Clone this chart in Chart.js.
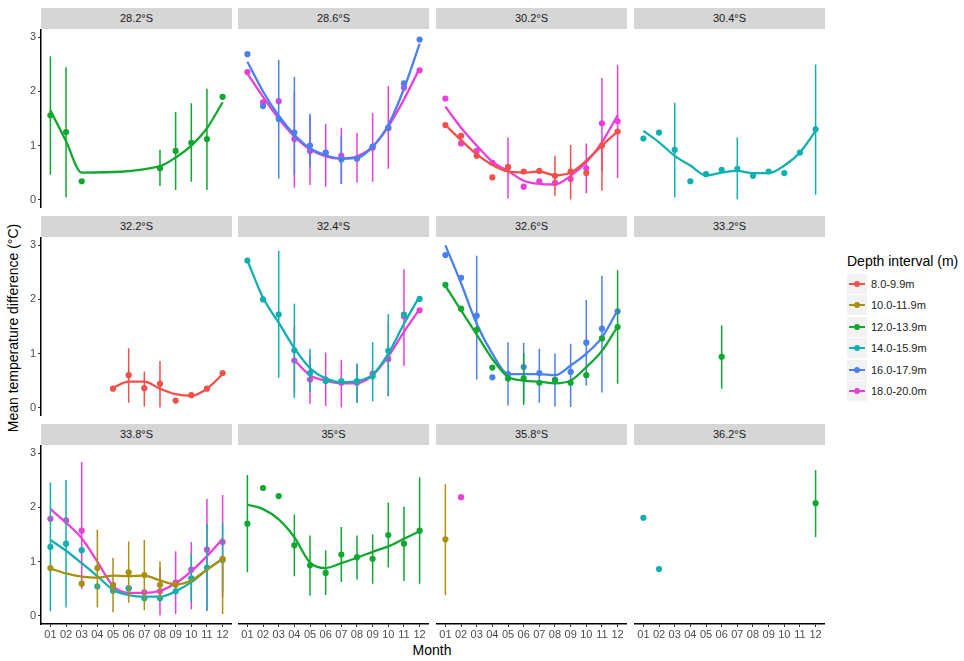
<!DOCTYPE html>
<html>
<head>
<meta charset="utf-8">
<script src="https://cdn.jsdelivr.net/npm/chart.js@4/dist/chart.umd.min.js"></script>
<style>
  body { margin: 0; background: #fff; width: 964px; height: 661px; position: relative; overflow: hidden;
         font-family: "Liberation Sans", Arial, sans-serif; }
  .strip { position: absolute; height: 21px; background: #d6d6d6; color: #1a1a1a; font-size: 11px;
           line-height: 21px; text-align: center; }
  .panel { position: absolute; }
  .ytitle { position: absolute; left: 13px; top: 328px; transform: translate(-50%, -50%) rotate(-90deg);
            font-size: 14px; color: #000; white-space: nowrap; }
  .xtitle { position: absolute; left: 432px; top: 642px; transform: translateX(-50%); font-size: 14px; color: #000; }
  .legend { position: absolute; left: 847px; top: 253px; }
  .legend .title { font-size: 14px; color: #000; margin-bottom: 4px; }
  .legend .item { height: 21.5px; display: flex; align-items: center; font-size: 11px; color: #1a1a1a; }
  .legend .key { width: 20px; height: 20px; background: #f2f2f2; position: relative; margin-right: 4px; }
  .legend .key .ln { position: absolute; left: 2px; right: 2px; top: 9px; height: 2px; }
  .legend .key .dt { position: absolute; left: 7px; top: 7px; width: 6px; height: 6px; border-radius: 3px; }
</style>
</head>
<body>
<div class="ytitle">Mean temperature difference (°C)</div>
<div class="xtitle">Month</div>
<div class="legend" id="legend"><div class="title">Depth interval (m)</div></div>
<script>
const _ = null;
const months = ['01', '02', '03', '04', '05', '06', '07', '08', '09', '10', '11', '12'];
const monthNums = [1, 2, 3, 4, 5, 6, 7, 8, 9, 10, 11, 12];
const yTicks = [0, 1, 2, 3];
const latitudes = ['28.2°S', '28.6°S', '30.2°S', '30.4°S', '32.2°S', '32.4°S', '32.6°S', '33.2°S',
                   '33.8°S', '35°S', '35.8°S', '36.2°S'];
const depthIntervals = ['8.0-9.9m', '10.0-11.9m', '12.0-13.9m', '14.0-15.9m', '16.0-17.9m', '18.0-20.0m'];
const depthColors = ['#F0504A', '#A89010', '#10A830', '#10B0B0', '#4A80F0', '#E840D8'];

// 28.2°S
const s282_12_mean = [1.56, 1.25, 0.34, _, _, _, _, 0.58, 0.90, 1.05, 1.12, 1.90];
const s282_12_lo   = [0.46, 0.04, _, _, _, _, _, 0.25, 0.18, 0.33, 0.18, _];
const s282_12_hi   = [2.65, 2.45, _, _, _, _, _, 0.92, 1.62, 1.78, 2.05, _];
const s282_12_fit  = [1.65, 1.08, 0.50, _, _, _, _, 0.62, 0.78, 1.00, 1.32, 1.80];

// 28.6°S
const s286_16_mean = [2.69, 1.73, 1.49, 1.24, 1.00, 0.87, 0.74, 0.76, 0.98, 1.33, 2.15, 2.96];
const s286_16_lo   = [_, _, 0.39, 0.45, 0.60, _, 0.30, _, _, _, _, _];
const s286_16_hi   = [_, _, 2.58, 2.27, 1.59, _, 1.19, _, _, _, _, _];
const s286_16_fit  = [2.55, 2.00, 1.55, 1.20, 0.95, 0.82, 0.76, 0.77, 0.98, 1.38, 2.05, 2.88];
const s286_18_mean = [2.36, 1.80, 1.82, 1.12, 0.90, 0.86, 0.81, 0.76, 0.96, 1.32, 2.07, 2.39];
const s286_18_lo   = [_, _, _, 0.22, 0.27, 0.24, 0.29, 0.31, 0.33, 0.57, _, _];
const s286_18_hi   = [_, _, _, 1.98, 1.54, 1.40, 1.33, 1.23, 1.60, 2.10, _, _];
const s286_18_fit  = [2.33, 1.90, 1.50, 1.17, 0.93, 0.80, 0.76, 0.80, 0.98, 1.35, 1.85, 2.43];

// 30.2°S
const s302_8_mean  = [1.38, 1.18, 0.81, 0.41, 0.60, 0.52, 0.53, 0.44, 0.52, 0.49, 1.00, 1.26];
const s302_8_lo    = [_, _, _, _, _, _, _, 0.07, 0.00, _, 0.17, _];
const s302_8_hi    = [_, _, _, _, _, _, _, 0.81, 1.01, _, 1.10, _];
const s302_8_fit   = [1.38, 1.10, 0.84, 0.64, 0.52, 0.50, 0.52, 0.45, 0.50, 0.72, 1.00, 1.26];
const s302_18_mean = [1.87, 1.04, 0.90, 0.68, 0.60, 0.24, 0.34, 0.31, 0.38, 0.58, 1.41, 1.45];
const s302_18_lo   = [_, _, _, _, 0.02, _, _, _, _, 0.12, 0.53, 0.40];
const s302_18_hi   = [_, _, _, _, 1.15, _, _, _, _, 1.04, 2.25, 2.49];
const s302_18_fit  = [1.72, 1.33, 1.00, 0.70, 0.53, 0.35, 0.29, 0.28, 0.44, 0.69, 1.06, 1.56];

// 30.4°S
const s304_14_mean = [1.13, 1.24, 0.92, 0.34, 0.47, 0.55, 0.57, 0.44, 0.52, 0.49, 0.87, 1.30];
const s304_14_lo   = [_, _, 0.04, _, _, _, 0.00, _, _, _, _, 0.09];
const s304_14_hi   = [_, _, 1.79, _, _, _, 1.15, _, _, _, _, 2.50];
const s304_14_fit  = [1.27, 1.06, 0.81, 0.63, 0.45, 0.50, 0.53, 0.49, 0.49, 0.63, 0.87, 1.27];

// 32.2°S
const s322_8_mean  = [_, _, _, _, 0.35, 0.60, 0.36, 0.44, 0.13, 0.23, 0.35, 0.64];
const s322_8_lo    = [_, _, _, _, _, 0.09, 0.02, 0.00, _, _, _, _];
const s322_8_hi    = [_, _, _, _, _, 1.10, 0.67, 0.86, _, _, _, _];
const s322_8_fit   = [_, _, _, _, 0.37, 0.48, 0.48, 0.35, 0.25, 0.22, 0.35, 0.62];

// 32.4°S
const s324_14_mean = [2.72, 2.00, 1.72, 1.06, 0.64, 0.49, 0.49, 0.49, 0.58, 1.05, 1.72, 2.01];
const s324_14_lo   = [_, _, 0.55, 0.18, 0.30, _, _, 0.09, 0.12, 0.21, _, _];
const s324_14_hi   = [_, _, 2.90, 1.92, 1.09, _, _, 0.81, 1.21, 1.73, _, _];
const s324_14_fit  = [2.72, 2.03, 1.57, 1.10, 0.73, 0.54, 0.47, 0.49, 0.61, 1.00, 1.55, 2.06];
const s324_18_mean = [_, _, _, 0.87, 0.52, 0.52, 0.46, 0.46, 0.63, 0.90, 1.69, 1.80];
const s324_18_lo   = [_, _, _, 0.27, 0.07, 0.03, 0.00, 0.09, _, 0.21, 0.77, _];
const s324_18_hi   = [_, _, _, 1.50, 0.96, 1.02, 0.88, 0.81, _, 1.60, 2.56, _];
const s324_18_fit  = [_, _, _, 0.88, 0.60, 0.50, 0.45, 0.45, 0.60, 0.95, 1.40, 1.82];

// 32.6°S
const s326_12_mean = [2.27, 1.83, 1.44, 0.74, 0.54, 0.54, 0.46, 0.51, 0.46, 0.60, 1.28, 1.49];
const s326_12_lo   = [_, _, _, _, _, 0.05, _, _, _, _, _, 0.44];
const s326_12_hi   = [_, _, _, _, _, 1.00, _, _, _, _, _, 2.54];
const s326_12_fit  = [2.25, 1.80, 1.35, 0.90, 0.57, 0.50, 0.48, 0.45, 0.50, 0.75, 1.05, 1.50];
const s326_16_mean = [2.82, 2.40, 1.70, 0.56, 0.62, 0.75, 0.64, 0.51, 0.66, 1.20, 1.46, 1.78];
const s326_16_lo   = [_, _, 0.52, _, 0.04, 0.12, 0.09, 0.02, 0.01, 0.41, 0.28, _];
const s326_16_hi   = [_, _, 2.81, _, 1.21, 1.20, 1.09, 1.00, 1.18, 1.99, 2.44, _];
const s326_16_fit  = [3.00, 2.30, 1.55, 1.00, 0.62, 0.62, 0.62, 0.60, 0.78, 1.00, 1.30, 1.80];

// 33.2°S
const s332_12_mean = [_, _, _, _, _, 0.94, _, _, _, _, _, _];
const s332_12_lo   = [_, _, _, _, _, 0.35, _, _, _, _, _, _];
const s332_12_hi   = [_, _, _, _, _, 1.52, _, _, _, _, _, _];

// 33.8°S
const s338_10_mean = [0.88, _, 0.59, 0.88, 0.55, 0.80, 0.75, 0.57, 0.57, _, _, 1.05];
const s338_10_lo   = [_, _, _, 0.15, 0.06, 0.24, 0.10, 0.30, _, _, _, 0.03];
const s338_10_hi   = [_, _, _, 1.59, 1.07, 1.37, 1.40, 1.00, _, _, _, 1.05];
const s338_10_fit  = [0.87, 0.78, 0.72, 0.70, 0.74, 0.73, 0.74, 0.65, 0.58, 0.65, 0.85, 1.05];
const s338_14_mean = [1.27, 1.33, 1.21, 0.54, 0.46, 0.50, 0.32, 0.32, 0.45, 0.69, 0.89, 1.03];
const s338_14_lo   = [0.08, 0.15, _, _, _, _, _, _, _, 0.25, 0.09, 0.45];
const s338_14_hi   = [2.46, 2.51, _, _, _, _, _, _, _, 1.15, 1.70, 1.71];
const s338_14_fit  = [1.40, 1.20, 0.97, 0.73, 0.48, 0.38, 0.35, 0.35, 0.45, 0.62, 0.85, 1.05];
const s338_18_mean = [1.79, 1.76, 1.57, _, 0.57, 0.51, 0.43, 0.45, 0.61, 0.85, 1.22, 1.36];
const s338_18_lo   = [_, _, 0.49, _, _, _, _, 0.00, 0.03, 0.12, 0.09, 0.34];
const s338_18_hi   = [_, _, 2.84, _, _, _, _, 0.89, 1.19, 1.36, 2.16, 2.23];
const s338_18_fit  = [1.97, 1.72, 1.43, 1.00, 0.55, 0.42, 0.42, 0.46, 0.60, 0.82, 1.10, 1.42];

// 35°S
const s350_12_mean = [1.70, 2.36, 2.21, 1.30, 0.93, 0.79, 1.13, 1.08, 1.05, 1.49, 1.33, 1.57];
const s350_12_lo   = [0.80, _, _, 0.73, 0.37, 0.38, 0.62, 0.67, 0.59, 0.89, 0.64, 0.59];
const s350_12_hi   = [2.60, _, _, 1.87, 1.48, 1.21, 1.64, 1.48, 1.50, 2.09, 2.02, 2.56];
const s350_12_fit  = [2.05, 1.97, 1.78, 1.45, 0.98, 0.88, 0.97, 1.07, 1.18, 1.28, 1.42, 1.56];

// 35.8°S
const s358_10_mean = [1.41, _, _, _, _, _, _, _, _, _, _, _];
const s358_10_lo   = [0.38, _, _, _, _, _, _, _, _, _, _, _];
const s358_10_hi   = [2.43, _, _, _, _, _, _, _, _, _, _, _];
const s358_18_mean = [_, 2.19, _, _, _, _, _, _, _, _, _, _];

// 36.2°S
const s362_14_mean = [1.81, 0.86, _, _, _, _, _, _, _, _, _, _];
const s362_12_mean = [_, _, _, _, _, _, _, _, _, _, _, 2.08];
const s362_12_lo   = [_, _, _, _, _, _, _, _, _, _, _, 1.45];
const s362_12_hi   = [_, _, _, _, _, _, _, _, _, _, _, 2.69];

const series = [
  { panel: 0, depth: 2, mean: s282_12_mean, lo: s282_12_lo, hi: s282_12_hi, fit: s282_12_fit },
  { panel: 1, depth: 4, mean: s286_16_mean, lo: s286_16_lo, hi: s286_16_hi, fit: s286_16_fit },
  { panel: 1, depth: 5, mean: s286_18_mean, lo: s286_18_lo, hi: s286_18_hi, fit: s286_18_fit },
  { panel: 2, depth: 0, mean: s302_8_mean, lo: s302_8_lo, hi: s302_8_hi, fit: s302_8_fit },
  { panel: 2, depth: 5, mean: s302_18_mean, lo: s302_18_lo, hi: s302_18_hi, fit: s302_18_fit },
  { panel: 3, depth: 3, mean: s304_14_mean, lo: s304_14_lo, hi: s304_14_hi, fit: s304_14_fit },
  { panel: 4, depth: 0, mean: s322_8_mean, lo: s322_8_lo, hi: s322_8_hi, fit: s322_8_fit },
  { panel: 5, depth: 3, mean: s324_14_mean, lo: s324_14_lo, hi: s324_14_hi, fit: s324_14_fit },
  { panel: 5, depth: 5, mean: s324_18_mean, lo: s324_18_lo, hi: s324_18_hi, fit: s324_18_fit },
  { panel: 6, depth: 2, mean: s326_12_mean, lo: s326_12_lo, hi: s326_12_hi, fit: s326_12_fit },
  { panel: 6, depth: 4, mean: s326_16_mean, lo: s326_16_lo, hi: s326_16_hi, fit: s326_16_fit },
  { panel: 7, depth: 2, mean: s332_12_mean, lo: s332_12_lo, hi: s332_12_hi },
  { panel: 8, depth: 1, mean: s338_10_mean, lo: s338_10_lo, hi: s338_10_hi, fit: s338_10_fit },
  { panel: 8, depth: 3, mean: s338_14_mean, lo: s338_14_lo, hi: s338_14_hi, fit: s338_14_fit },
  { panel: 8, depth: 5, mean: s338_18_mean, lo: s338_18_lo, hi: s338_18_hi, fit: s338_18_fit },
  { panel: 9, depth: 2, mean: s350_12_mean, lo: s350_12_lo, hi: s350_12_hi, fit: s350_12_fit },
  { panel: 10, depth: 1, mean: s358_10_mean, lo: s358_10_lo, hi: s358_10_hi },
  { panel: 10, depth: 5, mean: s358_18_mean },
  { panel: 11, depth: 3, mean: s362_14_mean },
  { panel: 11, depth: 2, mean: s362_12_mean, lo: s362_12_lo, hi: s362_12_hi },
];

// panel grid layout
const colLeft = [41, 238, 436, 634];
const rowTop = [29, 237, 445];
const PW = 191, PH = 179, STRIP = 21, YAXIS = 21, XAXIS = 22;

Chart.defaults.font.family = '"Liberation Sans", Arial, sans-serif';

function datasetsFor(s) {
  const col = depthColors[s.depth];
  const out = [];
  if (s.lo) {
    const bars = [];
    monthNums.forEach((m, i) => {
      if (s.lo[i] !== null && s.hi[i] !== null) {
        bars.push({ x: m, y: s.lo[i] }, { x: m, y: s.hi[i] }, { x: m, y: null });
      }
    });
    out.push({ data: bars, borderColor: col, borderWidth: 1.5, pointRadius: 0, spanGaps: false, tension: 0 });
  }
  out.push({
    data: monthNums.map((m, i) => ({ x: m, y: s.mean[i] })).filter(d => d.y !== null),
    showLine: false, pointRadius: 3.1, pointBackgroundColor: col, pointBorderWidth: 0, borderColor: col
  });
  if (s.fit) {
    out.push({
      data: monthNums.map((m, i) => ({ x: m, y: s.fit[i] })).filter(d => d.y !== null),
      borderColor: col, borderWidth: 2.3, pointRadius: 0, cubicInterpolationMode: 'monotone', spanGaps: true
    });
  }
  return out;
}

// fixed axis size, no extra padding from end tick labels
function fixSize(s, size) {
  if (s.isHorizontal()) s.height = size; else s.width = size;
  s.paddingTop = 0; s.paddingBottom = 0; s.paddingLeft = 0; s.paddingRight = 0;
}

latitudes.forEach((lat, p) => {
  const r = Math.floor(p / 4), c = p % 4;

  const strip = document.createElement('div');
  strip.className = 'strip';
  strip.style.left = colLeft[c] + 'px';
  strip.style.top = (rowTop[r] - STRIP) + 'px';
  strip.style.width = PW + 'px';
  strip.textContent = lat;
  document.body.appendChild(strip);

  const showY = c === 0, showX = r === 2;
  const w = PW + (showY ? YAXIS : 0), h = PH + (showX ? XAXIS : 0);
  const wrap = document.createElement('div');
  wrap.className = 'panel';
  wrap.style.left = (colLeft[c] - (showY ? YAXIS : 0)) + 'px';
  wrap.style.top = rowTop[r] + 'px';
  wrap.style.width = w + 'px';
  wrap.style.height = h + 'px';
  const canvas = document.createElement('canvas');
  canvas.width = w;
  canvas.height = h;
  canvas.style.width = w + 'px';
  canvas.style.height = h + 'px';
  wrap.appendChild(canvas);
  document.body.appendChild(wrap);

  const datasets = [];
  series.filter(s => s.panel === p).forEach(s => datasets.push(...datasetsFor(s)));

  new Chart(canvas.getContext('2d'), {
    type: 'line',
    data: { datasets },
    options: {
      responsive: false,
      animation: false,
      events: [],
      layout: { padding: 0, autoPadding: false },
      plugins: { legend: { display: false }, tooltip: { enabled: false } },
      scales: {
        x: {
          type: 'linear', min: 0.4, max: 12.6, display: showX,
          afterBuildTicks: s => { s.ticks = monthNums.map(v => ({ value: v })); },
          afterFit: s => fixSize(s, showX ? XAXIS : 0),
          ticks: { autoSkip: false, maxRotation: 0, padding: 1, color: '#4d4d4d', font: { size: 11 },
                   callback: v => months[v - 1] },
          grid: { drawOnChartArea: false, tickLength: 3, tickColor: '#333', tickWidth: 1 },
          border: { display: true, color: '#000', width: 1.5 }
        },
        y: {
          type: 'linear', min: -0.155, max: 3.155, display: showY,
          afterBuildTicks: s => { s.ticks = yTicks.map(v => ({ value: v })); },
          afterFit: s => fixSize(s, showY ? YAXIS : 0),
          ticks: { padding: 2, color: '#4d4d4d', font: { size: 11 } },
          grid: { drawOnChartArea: false, tickLength: 3, tickColor: '#333', tickWidth: 1 },
          border: { display: true, color: '#000', width: 1.5 }
        }
      }
    }
  });
});

// legend
const legend = document.getElementById('legend');
depthIntervals.forEach((d, i) => {
  const item = document.createElement('div');
  item.className = 'item';
  item.innerHTML = '<span class="key"><span class="ln" style="background:' + depthColors[i] + '"></span>' +
    '<span class="dt" style="background:' + depthColors[i] + '"></span></span>' + d;
  legend.appendChild(item);
});
</script>
</body>
</html>
